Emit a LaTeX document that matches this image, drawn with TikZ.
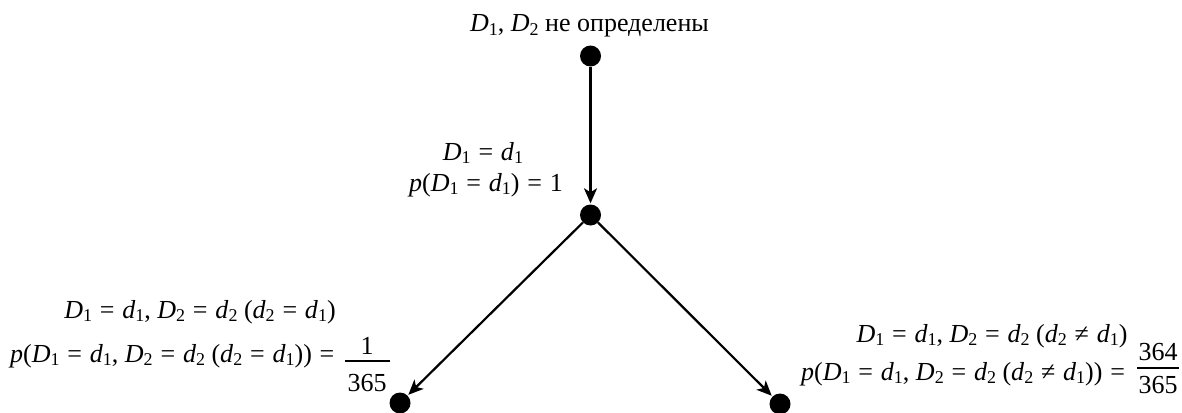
\documentclass[tikz,border=0pt]{standalone}
\usepackage{fontspec}
\setmainfont{Liberation Serif}
\usetikzlibrary{arrows.meta}
\newcommand\sbs[1]{\raisebox{-0.14em}{\fontsize{18}{18}\selectfont #1}}
\newcommand\vD{\textit{D}}
\newcommand\vd{\textit{d}}
\newcommand\vp{\textit{p}}
\newcommand\myeq{\hspace{0.3em}=\hspace{0.3em}}
\newcommand\myne{\hspace{0.3em}≠\hspace{0.3em}}
\begin{document}
\begin{tikzpicture}[x=1pt,y=-1pt,
  dot/.style={circle,fill=black,inner sep=0pt,minimum size=21pt},
  lbl/.style={inner sep=0pt,anchor=base,font=\fontsize{26}{30}\selectfont},
  arr/.style={line width=2.2pt,-{Stealth[length=15pt,width=13pt,inset=4pt]},shorten >=1pt},
  bar/.style={line width=1.4pt}]
\useasboundingbox (0,0) rectangle (1182,412);
\node[dot] (top) at (590.5,56) {};
\node[dot] (mid) at (590.5,215) {};
\node[dot] (bl) at (400,403) {};
\node[dot] (br) at (780,404) {};
\draw[arr] (top) -- (mid);
\draw[arr] (mid) -- (bl);
\draw[arr] (mid) -- (br);
\node[lbl] (t0) at (589.5,32) {\vD\sbs{1}, \vD\sbs{2} не определены};
\node[lbl] (m1) at (483,160) {\vD\sbs{1}\myeq\vd\sbs{1}};
\node[lbl] (m2) at (486,191) {\vp(\vD\sbs{1}\myeq\vd\sbs{1})\myeq 1};
\node[lbl] (l1) at (200,318) {\vD\sbs{1}\myeq\vd\sbs{1}, \vD\sbs{2}\myeq\vd\sbs{2} (\vd\sbs{2}\myeq\vd\sbs{1})};
\node[lbl,anchor=base west] (l2) at (10,362) {\vp(\vD\sbs{1}\myeq\vd\sbs{1}, \vD\sbs{2}\myeq\vd\sbs{2} (\vd\sbs{2}\myeq\vd\sbs{1}))\myeq};
\node[lbl] (ln) at (367,354) {1};
\node[lbl] (ld) at (367,391) {365};
\coordinate (lb1) at (345,361);
\coordinate (lb2) at (390,361);
\draw[bar] (lb1) -- (lb2);
\node[lbl] (r1) at (992,342) {\vD\sbs{1}\myeq\vd\sbs{1}, \vD\sbs{2}\myeq\vd\sbs{2} (\vd\sbs{2}\myne\vd\sbs{1})};
\node[lbl,anchor=base west] (r2) at (801,380) {\vp(\vD\sbs{1}\myeq\vd\sbs{1}, \vD\sbs{2}\myeq\vd\sbs{2} (\vd\sbs{2}\myne\vd\sbs{1}))\myeq};
\node[lbl] (rn) at (1158,360) {364};
\node[lbl] (rd) at (1158,393) {365};
\coordinate (rb1) at (1137,368);
\coordinate (rb2) at (1179,368);
\draw[bar] (rb1) -- (rb2);
\end{tikzpicture}
\end{document}
